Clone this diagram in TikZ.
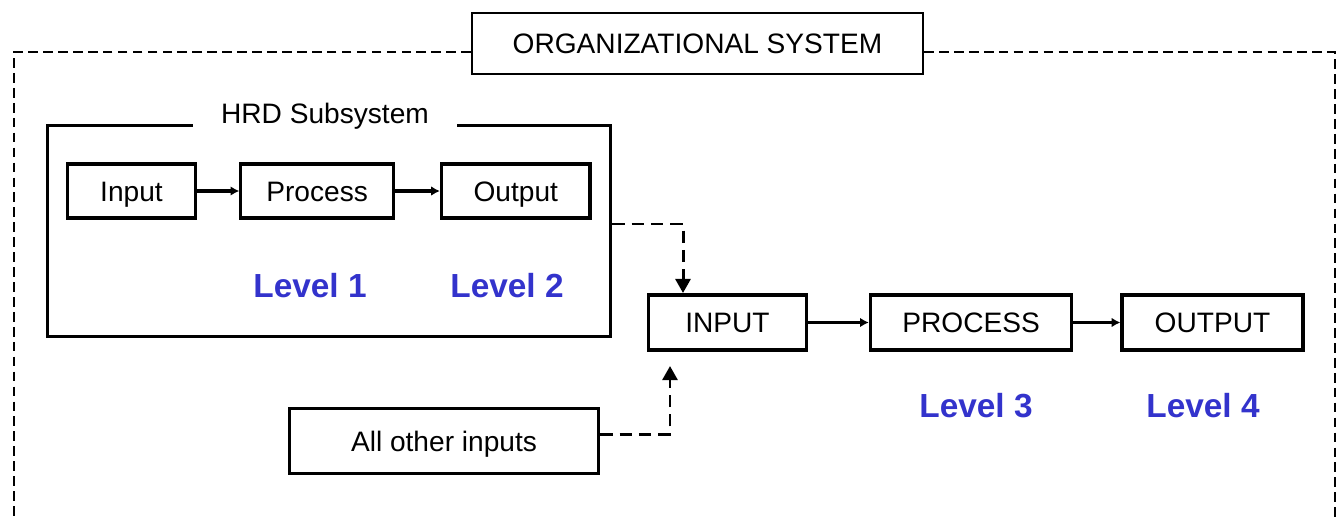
\documentclass[tikz,border=0pt]{standalone}
\usepackage{fontspec}
\setmainfont{Liberation Sans}
\usetikzlibrary{positioning, arrows.meta}
\definecolor{levelblue}{RGB}{51,51,204}

\begin{document}
\begin{tikzpicture}[
    x=0.02cm, y=-0.02cm,
    box/.style={rectangle, draw, line width=1.8pt, minimum height=1.08cm, inner sep=2pt, text height=11.5pt, text depth=0pt, font=\fontsize{16}{19}\selectfont},
    bigbox/.style={box, minimum height=1.1cm},
    level/.style={font=\fontsize{19}{22}\selectfont\bfseries, text=levelblue},
    frame/.style={line width=1.4pt, dash pattern=on 5.5pt off 3pt},
    line/.style={draw, line width=1.8pt, -{Latex[length=5pt, width=5.5pt]}},
    dashline/.style={draw, line width=1.7pt, dash pattern=on 7pt off 4pt, -{Triangle[length=8pt, width=8.5pt]}}
]
    \useasboundingbox (0,0) rectangle (1336,518);

    % Organizational system frame
    \node[box, line width=1.3pt, minimum width=9.02cm, minimum height=1.22cm] (org) at (697.5,43.5) {ORGANIZATIONAL SYSTEM};
    \draw[frame] (org.west |- 0,52) -- (14,52) -- (14,518);
    \draw[frame] (org.east |- 0,52) -- (1335,52) -- (1335,518);

    % HRD subsystem
    \node[draw, line width=1.8pt, minimum width=11.27cm, minimum height=4.23cm] (hrd) at (329,231) {};
    \node[fill=white, minimum width=5.28cm, inner ysep=1pt, font=\fontsize{16}{19}\selectfont] (hrdtitle) at (325,116) {HRD Subsystem};
    \node[box, minimum width=2.57cm] (in1) at (131.5,191) {Input};
    \node[box, minimum width=3.05cm, right=0.84cm of in1] (proc1) {Process};
    \node[box, minimum width=2.97cm, right=0.9cm of proc1] (out1) {Output};
    \node[level] (lv1) at (310,286) {Level 1};
    \node[level] (lv2) at (507,286) {Level 2};

    \path[line] (in1) -- (proc1);
    \path[line] (proc1) -- (out1);

    % Organization level
    \node[bigbox, minimum width=3.15cm] (inp) at (727.5,322.5) {INPUT};
    \node[bigbox, minimum width=4.03cm, right=1.22cm of inp] (proc) {PROCESS};
    \node[bigbox, minimum width=3.62cm, right=0.94cm of proc] (outp) {OUTPUT};
    \node[level] (lv3) at (976,406) {Level 3};
    \node[level] (lv4) at (1203,406) {Level 4};
    \node[box, minimum width=6.19cm, minimum height=1.31cm] (others) at (444,441) {All other inputs};

    \path[line] (inp) -- (proc);
    \path[line] (proc) -- (outp);

    \coordinate (intop) at (683,293);
    \coordinate (inbot) at (670,366);
    \path[dashline] (hrd.east |- 0,224) -| (intop);
    \path[dashline] (others.east |- 0,434) -| (inbot);
\end{tikzpicture}
\end{document}
